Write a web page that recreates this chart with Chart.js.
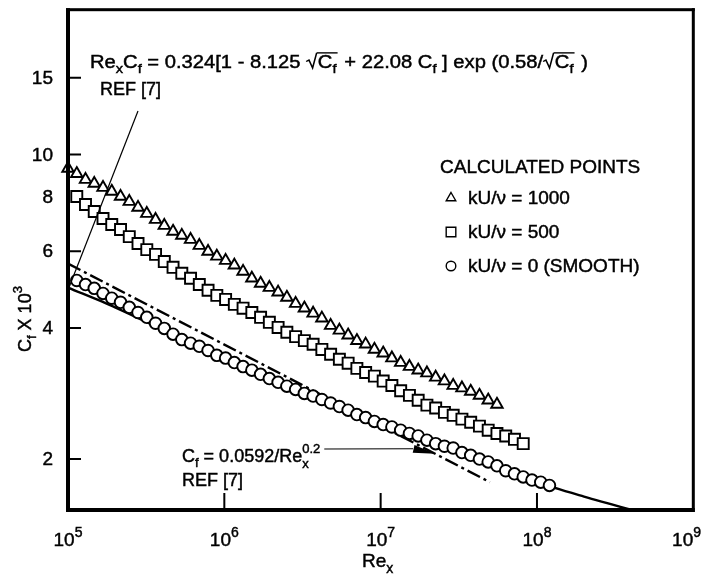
<!DOCTYPE html>
<html>
<head>
<meta charset="utf-8">
<script src="https://cdn.jsdelivr.net/npm/chart.js@4.4.0/dist/chart.umd.min.js"></script>
<style>
  html, body { margin: 0; padding: 0; background: #fff; }
</style>
</head>
<body>
<canvas id="cfChart" width="703" height="578"></canvas>
<script>
// Reynolds numbers of the calculated stations (shared by the three point series)
const reynolds = [
  1.000e5, 1.138e5, 1.294e5, 1.472e5, 1.675e5, 1.905e5, 2.168e5, 2.466e5, 2.805e5, 3.192e5,
  3.631e5, 4.130e5, 4.699e5, 5.346e5, 6.081e5, 6.918e5, 7.870e5, 8.954e5, 1.019e6, 1.159e6,
  1.318e6, 1.500e6, 1.706e6, 1.941e6, 2.208e6, 2.512e6, 2.858e6, 3.251e6, 3.698e6, 4.207e6,
  4.786e6, 5.445e6, 6.194e6, 7.047e6, 8.017e6, 9.120e6, 1.038e7, 1.180e7, 1.343e7, 1.528e7,
  1.738e7, 1.977e7, 2.249e7, 2.559e7, 2.911e7, 3.311e7, 3.767e7, 4.285e7, 4.875e7, 5.546e7,
  6.310e7, 7.178e7, 8.166e7, 9.290e7, 1.057e8, 1.202e8
];

// Cf x 10^3 (null = no point at that station)
const cfRough1000 = [
  9.29, 9.04, 8.76, 8.58, 8.40, 8.23, 8.01, 7.80, 7.56, 7.32,
  7.09, 6.87, 6.66, 6.52, 6.38, 6.18, 5.99, 5.84, 5.71, 5.57,
  5.39, 5.20, 5.06, 4.95, 4.83, 4.70, 4.55, 4.44, 4.32, 4.21,
  4.05, 3.95, 3.85, 3.74, 3.67, 3.57, 3.50, 3.41, 3.33, 3.26,
  3.20, 3.15, 3.08, 3.02, 2.95, 2.91, 2.86, 2.80, 2.73, 2.67
];
const cfRough500 = [
  null, 8.01, 7.68, 7.40, 7.13, 6.91, 6.73, 6.48, 6.25, 6.05,
  5.90, 5.68, 5.51, 5.34, 5.20, 5.03, 4.88, 4.75, 4.65, 4.53,
  4.44, 4.34, 4.23, 4.12, 4.01, 3.91, 3.82, 3.74, 3.67, 3.57,
  3.48, 3.39, 3.32, 3.23, 3.16, 3.10, 3.02, 2.95, 2.87, 2.80,
  2.73, 2.66, 2.62, 2.56, 2.52, 2.47, 2.43, 2.38, 2.33, 2.29,
  2.26, 2.22, 2.17
];
const cfSmooth = [
  null, 5.14, 5.03, 4.93, 4.80, 4.68, 4.58, 4.46, 4.34, 4.23,
  4.10, 3.99, 3.87, 3.76, 3.69, 3.63, 3.55, 3.46, 3.41, 3.33,
  3.26, 3.20, 3.13, 3.06, 3.00, 2.94, 2.89, 2.83, 2.79, 2.74,
  2.69, 2.64, 2.59, 2.53, 2.49, 2.44, 2.40, 2.37, 2.33, 2.29,
  2.26, 2.21, 2.17, 2.14, 2.12, 2.07, 2.04, 2.00, 1.97, 1.93,
  1.88, 1.85, 1.82, 1.79, 1.77, 1.74
];

// REF [7] curves
const schoenherrRe = [1e5, 2e5, 5e5, 1e6, 2e6, 5e6, 1e7, 2e7, 5e7, 1e8, 2e8, 4e8, 1e9];
const schoenherrCf = [4.95, 4.46, 3.82, 3.39, 3.03, 2.66, 2.40, 2.19, 1.95, 1.77, 1.64, 1.53, 1.40];
const powerLawRe = [1e5, 5e7];
const powerLawCf = [5.62, 1.77];

// axes
const xTicks = [1e5, 1e6, 1e7, 1e8, 1e9];
const xTickMarks = [1e6, 1e7, 1e8];
const yTickLabels = [2, 4, 6, 8, 10, 15];
const yTickMarks = [2, 4, 6, 10, 15];

const FONT = '"Liberation Sans", Arial, Helvetica, sans-serif';

function toPoints(xs, ys) {
  const pts = [];
  xs.forEach((xv, i) => {
    if (ys[i] != null) pts.push({ x: xv, y: ys[i] });
  });
  return pts;
}

// slightly heavier text, like the original typesetting
function inkText(ctx, text, x, y) {
  ctx.fillText(text, x, y);
  ctx.lineWidth = 0.45;
  ctx.strokeText(text, x, y);
}

// draws text with subscripts, superscripts and square roots
function drawRich(ctx, tokens, x, y, size, opts = {}) {
  const big = `${size}px ${FONT}`;
  const small = `${Math.round(size * 0.74)}px ${FONT}`;
  const draw = !opts.measure;
  const top = -size * 0.84;
  let cx = 0, rootStart = 0;
  ctx.save();
  ctx.translate(x, y);
  if (opts.rotate) ctx.rotate(opts.rotate);
  if (opts.scaleX) ctx.scale(opts.scaleX, 1);
  ctx.textAlign = 'left';
  ctx.textBaseline = 'alphabetic';
  ctx.fillStyle = '#000';
  ctx.strokeStyle = '#000';
  for (const tk of tokens) {
    const kind = tk[0];
    ctx.lineWidth = Math.max(1.2, size / 13);
    if (kind === 'root') {
      if (draw) {
        ctx.beginPath();
        ctx.moveTo(cx, -size * 0.36);
        ctx.lineTo(cx + size * 0.14, -size * 0.44);
        ctx.lineTo(cx + size * 0.32, 0);
        ctx.lineTo(cx + size * 0.52, top);
        ctx.stroke();
      }
      rootStart = cx + size * 0.52;
      cx += size * 0.58;
    } else if (kind === 'end') {
      if (draw) {
        ctx.beginPath();
        ctx.moveTo(rootStart, top);
        ctx.lineTo(cx + 1, top);
        ctx.stroke();
      }
      cx += 2;
    } else if (kind === 'stack') {
      ctx.font = small;
      const w = Math.max(ctx.measureText(tk[1]).width, ctx.measureText(tk[2]).width);
      if (draw) {
        inkText(ctx, tk[1], cx, size * 0.32);
        inkText(ctx, tk[2], cx, -size * 0.5);
      }
      cx += w;
    } else {
      ctx.font = kind === 'n' ? big : small;
      const dy = kind === 'sub' ? size * 0.3 : kind === 'sup' ? -size * 0.5 : 0;
      if (draw) inkText(ctx, tk[1], cx, dy);
      cx += ctx.measureText(tk[1]).width;
    }
  }
  ctx.restore();
  return cx * (opts.scaleX || 1);
}

// same, stretched to a given width
function drawRichFit(ctx, tokens, x, y, size, width) {
  const w = drawRich(ctx, tokens, 0, 0, size, { measure: true });
  return drawRich(ctx, tokens, x, y, size, { scaleX: width / w });
}

const frameAndTicks = {
  id: 'frameAndTicks',
  afterDatasetsDraw(chart) {
    const { ctx, chartArea: a, scales: { x, y } } = chart;
    ctx.save();
    ctx.fillStyle = '#000';
    // frame: heavier on the left and bottom
    ctx.fillRect(a.left - 2, a.top - 1.5, 4, a.bottom - a.top + 3.5);
    ctx.fillRect(a.left - 2, a.bottom - 2, a.right - a.left + 3.5, 4);
    ctx.fillRect(a.left - 2, a.top - 1.5, a.right - a.left + 3.5, 3);
    ctx.fillRect(a.right - 1.5, a.top - 1.5, 3, a.bottom - a.top + 3.5);
    // inward tick marks
    ctx.strokeStyle = '#000';
    ctx.lineWidth = 2;
    ctx.beginPath();
    yTickMarks.forEach(v => {
      const py = y.getPixelForValue(v);
      ctx.moveTo(a.left, py);
      ctx.lineTo(a.left + 13, py);
    });
    xTickMarks.forEach(v => {
      const px = x.getPixelForValue(v);
      ctx.moveTo(px, a.bottom);
      ctx.lineTo(px, a.bottom - 17);
    });
    ctx.stroke();
    ctx.restore();
  },
  afterDraw(chart) {
    const { ctx, scales: { x, y } } = chart;
    ctx.save();

    // y tick labels
    ctx.fillStyle = '#000';
    ctx.strokeStyle = '#000';
    ctx.font = `19px ${FONT}`;
    ctx.textAlign = 'right';
    ctx.textBaseline = 'middle';
    yTickLabels.forEach(v => inkText(ctx, String(v), 53, y.getPixelForValue(v) + 1));

    // x tick labels 10^n
    xTicks.forEach(v => {
      const tokens = [['n', '10'], ['sup', String(Math.round(Math.log10(v)))]];
      const w = drawRich(ctx, tokens, 0, 0, 19, { measure: true });
      const left = Math.min(x.getPixelForValue(v) - w / 2, 701 - w);
      drawRich(ctx, tokens, left, 546, 19);
    });

    // axis titles
    drawRich(ctx, [['n', 'Re'], ['sub', 'x']], 362, 567, 19);
    drawRich(ctx, [['n', 'C'], ['sub', 'f'], ['n', ' X 10'], ['sup', '3']], 31, 352, 18, { rotate: -Math.PI / 2 });

    // REF [7] formula at the top
    drawRichFit(ctx, [
      ['n', 'Re'], ['sub', 'x'], ['n', 'C'], ['sub', 'f'], ['n', ' = 0.324[1 - 8.125 '],
      ['root'], ['n', 'C'], ['sub', 'f'], ['end'],
      ['n', ' + 22.08 C'], ['sub', 'f'], ['n', ' ] exp (0.58/'],
      ['root'], ['n', 'C'], ['sub', 'f'], ['end'], ['n', ' )']
    ], 90, 68, 18, 498);
    drawRich(ctx, [['n', 'REF [7]']], 100, 95, 18);

    // leader from the top label down to the solid curve
    ctx.strokeStyle = '#000';
    ctx.lineWidth = 1.2;
    ctx.beginPath();
    ctx.moveTo(138, 111);
    ctx.lineTo(x.getPixelForValue(schoenherrRe[0]) + 1, y.getPixelForValue(schoenherrCf[0]));
    ctx.stroke();

    // power-law label with arrow to the dash-dot line
    const textEnd = 182 + drawRich(ctx, [['n', 'C'], ['sub', 'f'], ['n', ' = 0.0592/Re'], ['stack', 'x', '0.2']], 182, 462, 18);
    drawRich(ctx, [['n', 'REF [7]']], 182, 486, 18);
    const p0 = [x.getPixelForValue(powerLawRe[0]), y.getPixelForValue(powerLawCf[0])];
    const p1 = [x.getPixelForValue(powerLawRe[1]), y.getPixelForValue(powerLawCf[1])];
    const t = 0.87;
    const tip = [p0[0] + t * (p1[0] - p0[0]), p0[1] + t * (p1[1] - p0[1])];
    const bend = [tip[0] - 22, tip[1] - 5];
    ctx.lineWidth = 1.2;
    ctx.beginPath();
    ctx.moveTo(textEnd + 4, 449);
    ctx.lineTo(bend[0], bend[1]);
    ctx.stroke();
    const dx = tip[0] - bend[0], dy = tip[1] - bend[1];
    const len = Math.hypot(dx, dy);
    const ux = dx / len, uy = dy / len;
    ctx.beginPath();
    ctx.moveTo(tip[0], tip[1]);
    ctx.lineTo(tip[0] - ux * 22 - uy * 4, tip[1] - uy * 22 + ux * 4);
    ctx.lineTo(tip[0] - ux * 22 + uy * 4, tip[1] - uy * 22 - ux * 4);
    ctx.closePath();
    ctx.fill();

    // legend
    ctx.font = `19px ${FONT}`;
    ctx.textAlign = 'left';
    ctx.textBaseline = 'middle';
    inkText(ctx, 'CALCULATED POINTS', 440, 168);
    const legendRows = [[2, 'triangle', 5.5, 198], [1, 'rect', 6.8, 232], [0, 'circle', 4.8, 266]];
    legendRows.forEach(([idx, style, r, ly]) => {
      ctx.fillStyle = '#fff';
      ctx.strokeStyle = '#000';
      ctx.lineWidth = 1.4;
      Chart.helpers.drawPoint(ctx, { pointStyle: style, radius: r, borderWidth: 1.4, rotation: 0 }, 451, ly);
      ctx.fillStyle = '#000';
      inkText(ctx, chart.data.datasets[idx].label, 468, ly + 1);
    });

    ctx.restore();
  }
};

const marker = {
  showLine: false,
  clip: false,
  pointBackgroundColor: '#fff',
  pointBorderColor: '#000',
  pointBorderWidth: 1.9
};

new Chart(document.getElementById('cfChart').getContext('2d'), {
  type: 'scatter',
  data: {
    datasets: [
      { ...marker, label: 'kU/ν = 0 (SMOOTH)', data: toPoints(reynolds, cfSmooth), pointStyle: 'circle', pointRadius: 5.8 },
      { ...marker, label: 'kU/ν = 500', data: toPoints(reynolds, cfRough500), pointStyle: 'rect', pointRadius: 7.8 },
      { ...marker, label: 'kU/ν = 1000', data: toPoints(reynolds, cfRough1000), pointStyle: 'triangle', pointRadius: 6.6 },
      {
        label: 'Cf = 0.0592/Rex^0.2',
        data: toPoints(powerLawRe, powerLawCf),
        showLine: true, pointRadius: 0,
        borderColor: '#000', borderWidth: 2.4, borderDash: [14, 4, 3, 4]
      },
      {
        label: 'REF [7]',
        data: toPoints(schoenherrRe, schoenherrCf),
        showLine: true, pointRadius: 0, tension: 0.3,
        borderColor: '#000', borderWidth: 2.4
      }
    ]
  },
  options: {
    responsive: false,
    animation: false,
    devicePixelRatio: 1,
    layout: { padding: { left: 68, top: 9, right: 9, bottom: 68 } },
    plugins: { legend: { display: false }, tooltip: { enabled: false } },
    scales: {
      x: { type: 'logarithmic', min: 1e5, max: 1e9, display: false },
      y: { type: 'logarithmic', min: 1.528, max: 21.5, display: false }
    }
  },
  plugins: [frameAndTicks]
});
</script>
</body>
</html>
